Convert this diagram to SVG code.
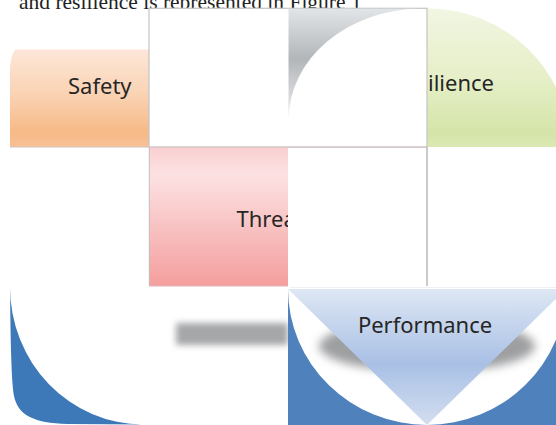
<svg xmlns="http://www.w3.org/2000/svg" width="556" height="425" viewBox="0 0 556 425">
  <defs>
    <linearGradient id="gOrange" x1="0" y1="0" x2="0" y2="1">
      <stop offset="0" stop-color="#fde7d9"/>
      <stop offset="0.45" stop-color="#fad3b4"/>
      <stop offset="0.85" stop-color="#f7b987"/>
      <stop offset="1" stop-color="#f8c195"/>
    </linearGradient>
    <linearGradient id="gGreen" x1="0" y1="0" x2="0" y2="1">
      <stop offset="0" stop-color="#f1f6e2"/>
      <stop offset="0.5" stop-color="#e6efc8"/>
      <stop offset="0.9" stop-color="#d5e5a9"/>
      <stop offset="1" stop-color="#dbe8b4"/>
    </linearGradient>
    <linearGradient id="gPink" x1="0" y1="0" x2="0" y2="1">
      <stop offset="0" stop-color="#f9cfd0"/>
      <stop offset="0.2" stop-color="#fde2e3"/>
      <stop offset="0.6" stop-color="#f8c0c0"/>
      <stop offset="1" stop-color="#f49e9d"/>
    </linearGradient>
    <linearGradient id="gSilver" x1="0" y1="0" x2="0" y2="1">
      <stop offset="0" stop-color="#e2e5e8"/>
      <stop offset="0.45" stop-color="#b3b6b9"/>
      <stop offset="1" stop-color="#eeeef2"/>
    </linearGradient>
    <linearGradient id="gTri" x1="0" y1="0" x2="0" y2="1">
      <stop offset="0" stop-color="#dee7f4"/>
      <stop offset="0.55" stop-color="#a9c0e5"/>
      <stop offset="1" stop-color="#d3def0"/>
    </linearGradient>
    <filter id="soft" x="-20%" y="-60%" width="140%" height="220%">
      <feGaussianBlur stdDeviation="3"/>
    </filter>
    <filter id="softer" x="-20%" y="-60%" width="140%" height="220%">
      <feGaussianBlur stdDeviation="5"/>
    </filter>
    <clipPath id="clipThreat"><rect x="149" y="147" width="139" height="139"/></clipPath>
    <clipPath id="clipPerf"><rect x="288" y="289" width="268" height="136"/></clipPath>
  </defs>
  <style>
    .lbl { font-family: "Noto Sans", "Open Sans", sans-serif; font-size: 22px; fill: #262626; }
    .body { font-family: "Liberation Serif", "Times New Roman", serif; font-size: 21.5px; fill: #222; }
    .edge { fill: #fff; stroke: #c4c4c4; stroke-width: 1.2; }
  </style>

  <rect width="556" height="425" fill="#fff"/>

  <!-- running text line above the figure -->
  <text class="body" x="19" y="9">and resilience is represented in Figure 1</text>

  <!-- Safety tile -->
  <g id="safety">
    <path d="M15,49.5 L149,49.5 L149,147 L10,147 L10,72 Q10,56 15,49.5 Z" fill="url(#gOrange)"/>
    <line x1="10" y1="147" x2="149" y2="147" stroke="#d0c4bc" stroke-width="1"/>
    <text class="lbl" x="68" y="93.5">Safety</text>
  </g>

  <!-- Resilience tile -->
  <g id="resilience">
    <path d="M427,8.3 L427,147 L570,147 A143,139 0 0 0 427,8.3 Z" fill="url(#gGreen)"/>
    <text class="lbl" x="428" y="91">ilience</text>
  </g>

  <!-- blank frame with silver sweep -->
  <g id="frame">
    <rect x="149" y="8.3" width="278" height="138.7" class="edge"/>
    <path d="M288.5,8.8 L420,8.8 A132,111.5 0 0 0 288.5,120 Z" fill="url(#gSilver)"/>
  </g>

  <!-- Threat tile -->
  <g id="threat">
    <rect x="149" y="147" width="139" height="139" fill="url(#gPink)"/>
    <g clip-path="url(#clipThreat)">
      <text class="lbl" x="236.5" y="227">Threa</text>
    </g>
    <line x1="149.3" y1="147" x2="149.3" y2="286" stroke="#c0c0c0" stroke-width="1"/>
    <line x1="149" y1="286" x2="288" y2="286" stroke="#e0b8b8" stroke-width="1"/>
    <line x1="149" y1="147.2" x2="427" y2="147.2" stroke="#d8c4c4" stroke-width="1"/>
  </g>

  <!-- empty cell right of Threat -->
  <g id="cell">
    <line x1="427" y1="147" x2="427" y2="286" stroke="#bdbdbd" stroke-width="1.6"/>
    <line x1="290" y1="287.5" x2="556" y2="287.5" stroke="#eef0f6" stroke-width="1"/>
  </g>

  <!-- lower-left blue corner -->
  <g id="corner">
    <path d="M10,287 C10.5,330 11,378 14,396 C18,415 33,423 68,424 L143,424.5 A133,137.5 0 0 1 10,287 Z" fill="#3d79b8"/>
  </g>

  <!-- blurred shadow bar -->
  <g id="connectors">
    <rect x="176" y="323" width="112" height="22" fill="#a6a7a9" filter="url(#soft)"/>
  </g>

  <!-- Performance tile -->
  <g id="performance" clip-path="url(#clipPerf)">
    <rect x="288" y="289" width="268" height="136" fill="#4f81bd"/>
    <path d="M288,289 A139,136 0 0 0 566,289 Z" fill="#fff"/>
    <ellipse cx="427" cy="346" rx="108" ry="26" fill="#9e9fa1" filter="url(#softer)"/>
    <path d="M288,289 L566,289 L427,425 Z" fill="url(#gTri)"/>
    <text class="lbl" x="425" y="332.5" text-anchor="middle">Performance</text>
  </g>
</svg>
